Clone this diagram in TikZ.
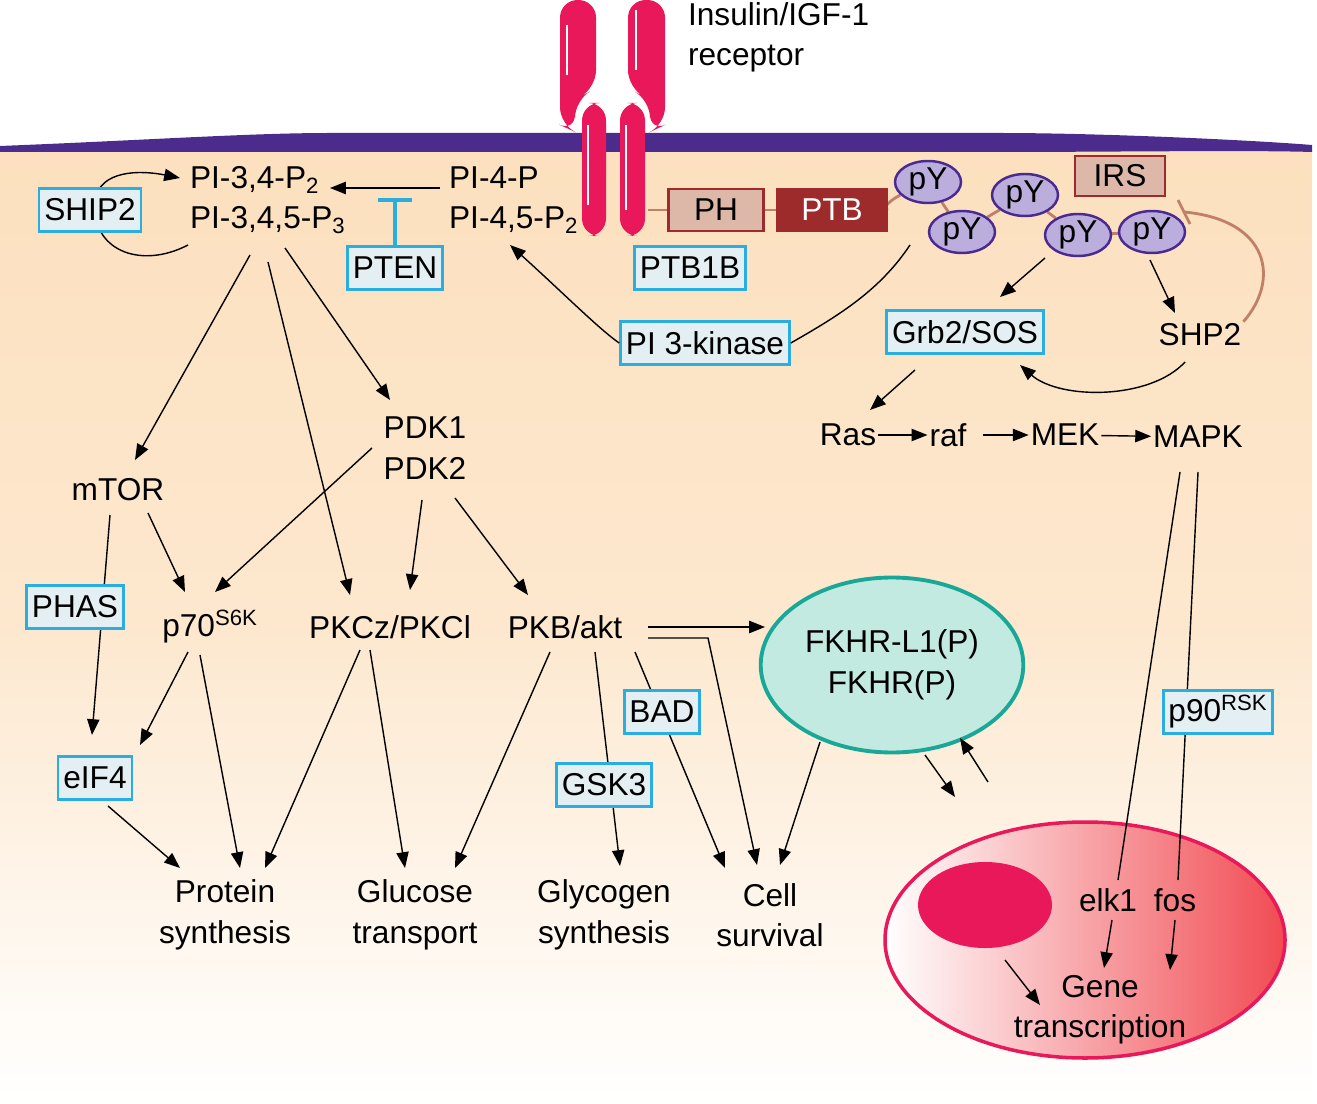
\documentclass[tikz,border=0pt]{standalone}
\usepackage{fontspec}
\setmainfont{Liberation Sans}
\usetikzlibrary{arrows.meta,shapes.geometric}
\pgfdeclarelayer{bg}
\pgfsetlayers{bg,main}
\definecolor{peach}{HTML}{FCE0BE}
\definecolor{memb}{HTML}{4B2C8C}
\definecolor{rec}{HTML}{E8185A}
\definecolor{cyanb}{HTML}{2AAEE0}
\definecolor{boxf}{HTML}{E3EFF2}
\definecolor{brn}{HTML}{9E2B2B}
\definecolor{phf}{HTML}{DDB8A8}
\definecolor{pyf}{HTML}{BBAEDD}
\definecolor{pyb}{HTML}{4A2A90}
\definecolor{lnk}{HTML}{C08068}
\definecolor{teal}{HTML}{19A898}
\definecolor{tealf}{HTML}{C2EAE0}
\begin{document}
\begin{tikzpicture}[x=0.02cm,y=-0.02cm,
  every node/.style={font=\fontsize{18}{23}\selectfont},
  txt/.style={inner sep=1pt},
  cb/.style={draw=cyanb,line width=1.6pt,fill=boxf,inner sep=3pt,minimum height=0.85cm},
  py/.style={ellipse,draw=pyb,line width=1.4pt,fill=pyf,minimum width=1.32cm,minimum height=0.84cm,inner sep=0pt},
  ar/.style={-{Triangle[length=9pt,width=7pt]},line width=0.8pt},
  ln/.style={line width=0.8pt},
  lk/.style={lnk,line width=1.6pt}]
\useasboundingbox (0,0) rectangle (1317,1104);
% background
\begin{pgfonlayer}{bg}
\shade[top color=peach,bottom color=white,middle color=peach!75] (0,148) -- (330,140) -- (1000,140) -- (1312,150) -- (1312,1104) -- (0,1104) -- cycle;
\fill[memb] (0,146) .. controls (150,140) and (250,133) .. (330,133) -- (1000,133) .. controls (1100,133) and (1250,140) .. (1312,145) -- (1312,152) .. controls (1250,150) and (1100,152) .. (1000,152) -- (330,152) .. controls (250,152) and (150,152) .. (0,152) -- cycle;
\end{pgfonlayer}
% receptor
\fill[rec,rounded corners=10pt] (560,0) -- (596,0) -- (596,88) -- (575,100) -- (575,132) -- (560,125) -- cycle;
\fill[rec,rounded corners=10pt] (628,0) -- (665,0) -- (665,125) -- (650,132) -- (650,100) -- (628,88) -- cycle;
\fill[rec,rounded corners=10pt] (582,103) rectangle (606,236);
\fill[rec,rounded corners=10pt] (620,103) rectangle (645,236);
\draw[white,line width=0.6pt] (567,25) -- (567,75) (636,10) -- (636,70) (588,125) -- (588,205) (626,125) -- (626,210);
\node[txt,anchor=north west,align=left] (ins) at (686,0) {Insulin/IGF-1\\receptor};
% PH PTB chain
\node[draw=brn,line width=1.4pt,fill=phf,minimum width=1.9cm,minimum height=0.85cm] (ph) at (716,210) {PH};
\node[draw=brn,line width=1.4pt,fill=brn,text=white,minimum width=2.2cm,minimum height=0.85cm] (ptb) at (832,210) {PTB};
\node[draw=brn,line width=1.4pt,fill=phf,minimum width=1.8cm,minimum height=0.8cm] (irs) at (1120,176) {IRS};
\coordinate (rl) at (648,210);
\draw[lk] (rl) -- (ph); \draw[lk] (ph) -- (ptb);
\node[py] (y1) at (928,182) {pY};
\node[py] (y2) at (962,232) {pY};
\node[py] (y3) at (1025,195) {pY};
\node[py] (y4) at (1078,235) {pY};
\node[py] (y5) at (1152,232) {pY};
\begin{pgfonlayer}{bg}
\draw[lk] (ptb.east) .. controls (880,210) and (890,200) .. (y1);
\draw[lk] (y1) -- (y2); \draw[lk] (y2) -- (y3); \draw[lk] (y3) -- (y4); \draw[lk] (y4) -- (y5);
\end{pgfonlayer}
% SHP2 inhibition
\node[txt] (shp2) at (1200,335) {SHP2};
\coordinate (sb) at (1184,212);
\draw[lk] (shp2.north east) .. controls (1280,280) and (1270,220) .. (sb);
\draw[lk] (1178,200) -- (1190,224);
% PI nodes
\node[txt,anchor=west] (pi34) at (188,180) {PI-3,4-P\textsubscript{2}};
\node[txt,anchor=west] (pi345) at (188,220) {PI-3,4,5-P\textsubscript{3}};
\node[txt,anchor=west] (pi4) at (447,178) {PI-4-P};
\node[txt,anchor=west] (pi45) at (447,220) {PI-4,5-P\textsubscript{2}};
\node[cb] (ship2) at (90,210) {SHIP2};
\node[cb] (pten) at (395,268) {PTEN};
\node[cb] (ptb1b) at (690,268) {PTB1B};
\node[cb] (pi3k) at (705,343) {PI 3-kinase};
\node[cb] (grb) at (965,332) {Grb2/SOS};
\coordinate (a1) at (440,188); \coordinate (a2) at (330,188);
\draw[ar] (a1) -- (a2);
\coordinate (tb) at (395,200);
\draw[cyanb,line width=2pt] (pten.north) -- (tb) (378,200) -- (412,200);
\coordinate (s1) at (188,245); \coordinate (s2) at (180,178);
\begin{pgfonlayer}{bg}
\draw[ar] (s1) .. controls (140,270) and (90,250) .. (95,200) .. controls (100,170) and (140,170) .. (s2);
\end{pgfonlayer}
\coordinate (k1) at (910,245); \coordinate (k2) at (510,245);
\draw[ln] (k1) .. controls (880,290) and (840,315) .. (pi3k.east);
\draw[ar] (pi3k.west) .. controls (600,330) and (560,290) .. (k2);
\draw[ar] (1045,258) -- (1000,297);
\draw[ar] (1150,260) -- (1175,313);
\coordinate (g1) at (1185,362); \coordinate (g2) at (1020,365);
\draw[ar] (g1) .. controls (1150,400) and (1060,400) .. (g2);
% MAPK chain
\node[txt] (ras) at (848,435) {Ras};
\node[txt] (raf) at (948,435) {raf};
\node[txt] (mek) at (1065,435) {MEK};
\node[txt] (mapk) at (1198,437) {MAPK};
\draw[ar] (915,370) -- (870,410);
\draw[ar] (ras) -- (raf); \draw[ar] (983,435) -- (mek); \draw[ar] (mek) -- (mapk);
% middle
\node[txt] (mtor) at (118,490) {mTOR};
\node[txt,align=center] (pdk) at (425,448) {PDK1\\PDK2};
\node[txt] (p70) at (210,627) {p70$^{\mathrm{S6K}}$};
\node[txt] (pkc) at (390,627) {PKCz/PKCl};
\node[txt] (pkb) at (565,627) {PKB/akt};
\node[cb] (phas) at (75,607) {PHAS};
\node[cb] (eif) at (95,778) {eIF4};
\node[cb] (bad) at (662,712) {BAD};
\node[cb] (gsk) at (604,785) {GSK3};
\node[ellipse,draw=teal,line width=2.2pt,fill=tealf,minimum width=4.6cm,minimum height=3.5cm,align=center] (fkhr) at (892,665) {FKHR-L1(P)\\FKHR(P)};
\node[txt,align=center] (prot) at (225,915) {Protein\\synthesis};
\node[txt,align=center] (gluc) at (415,915) {Glucose\\transport};
\node[txt,align=center] (glyc) at (604,915) {Glycogen\\synthesis};
\node[txt,align=center] (cell) at (770,915) {Cell\\survival};
\begin{pgfonlayer}{bg}
\draw[ar] (250,255) -- (135,460);
\draw[ar] (268,262) -- (350,595);
\draw[ar] (285,248) -- (390,400);
\draw[ar] (372,448) -- (215,592);
\draw[ar] (422,500) -- (410,590);
\draw[ar] (455,498) -- (528,595);
\draw[ar] (110,515) -- (92,735);
\draw[ar] (148,513) -- (185,592);
\draw[ar] (188,652) -- (140,745);
\draw[ar] (200,655) -- (240,868);
\draw[ar] (108,806) -- (180,868);
\draw[ar] (360,650) -- (265,868);
\draw[ar] (370,650) -- (405,868);
\draw[ar] (550,652) -- (455,868);
\draw[ar] (595,652) -- (620,866);
\draw[ar] (635,652) -- (725,868);
\draw[ar] (648,627) -- (765,627);
\draw[ar] (648,638) -- (708,638) -- (757,865);
\draw[ar] (820,742) -- (780,865);
\end{pgfonlayer}
% cell nucleus
\shade[left color=white,right color=rec!70!orange!90,draw=rec,line width=2pt] (1085,940) ellipse [x radius=200,y radius=118];
\fill[rec] (985,905) ellipse [x radius=67,y radius=43];
\draw[ln] (1180,472) -- (1118,880);
\draw[ln] (1198,472) -- (1178,880);
\node[txt] (elk) at (1108,900) {elk1};
\node[txt] (fos) at (1175,900) {fos};
\node[txt,align=center] (gene) at (1100,1010) {Gene\\transcription};
\node[cb] (p90) at (1218,712) {p90$^{\mathrm{RSK}}$};
\draw[ar] (925,755) -- (955,797);
\draw[ar] (988,782) -- (960,738);
\draw[ar] (1112,920) -- (1104,968);
\draw[ar] (1175,920) -- (1170,970);
\draw[ar] (1005,960) -- (1040,1005);
\end{tikzpicture}
\end{document}
